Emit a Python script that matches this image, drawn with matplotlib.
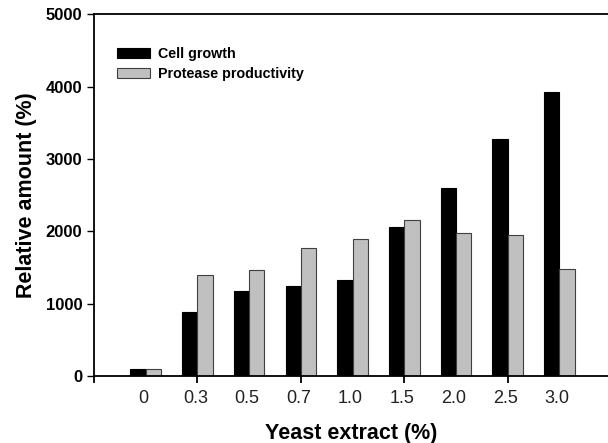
import numpy as np
import matplotlib.pyplot as plt

plt.rcParams['font.family'] = ['Liberation Sans', 'DejaVu Sans']

# Data
labels = ["0", "0.3", "0.5", "0.7", "1.0", "1.5", "2.0", "2.5", "3.0"]
cell_growth = [100, 880, 1175, 1250, 1330, 2065, 2605, 3280, 3920]
protease = [100, 1395, 1470, 1765, 1890, 2150, 1975, 1950, 1485]

x = np.arange(len(labels))
w = 0.296

fig = plt.figure(figsize=(6.08, 4.43), dpi=100)
ax = fig.add_axes([0.1546, 0.151, 0.8454, 0.817])

ax.bar(x - w / 2, cell_growth, w, color="black", edgecolor="black", linewidth=0.8, label="Cell growth")
ax.bar(x + w / 2, protease, w, color="#c0c0c0", edgecolor="#404040", linewidth=0.8, label="Protease productivity")

ax.set_xlim(-1, 8.94)
ax.set_ylim(0, 5000)

# tick marks only every two groups, labels under every group
ax.set_xticks([-1, 1, 3, 5, 7])
ax.set_xticklabels([])
ax.tick_params(axis="x", length=5, width=1.3, direction="out", color="black")
for xi, lab in zip(x, labels):
    ax.annotate(lab, xy=(xi, 0), xycoords=("data", "axes fraction"),
                xytext=(-1.5, -10), textcoords="offset points",
                ha="center", va="top", fontsize=13, color="#222222")

ax.set_yticks([0, 1000, 2000, 3000, 4000, 5000])
ax.tick_params(axis="y", length=5, width=1, direction="out", labelsize=12)
for t in ax.get_yticklabels():
    t.set_fontweight("bold")

ax.spines["right"].set_visible(False)
for s in ["left", "bottom", "top"]:
    ax.spines[s].set_linewidth(1.3)

ax.set_xlabel("Yeast extract (%)", fontsize=15.5, fontweight="bold", labelpad=25)
ax.set_ylabel("Relative amount (%)", fontsize=15.5, fontweight="bold", labelpad=6)

leg = ax.legend(loc="upper left", bbox_to_anchor=(0.034, 0.925), frameon=False,
                prop={"weight": "bold", "size": 10.3}, handlelength=2.3, handleheight=0.7,
                labelspacing=0.45, handletextpad=0.55, borderaxespad=0)

fig.savefig("out.png", dpi=100)
